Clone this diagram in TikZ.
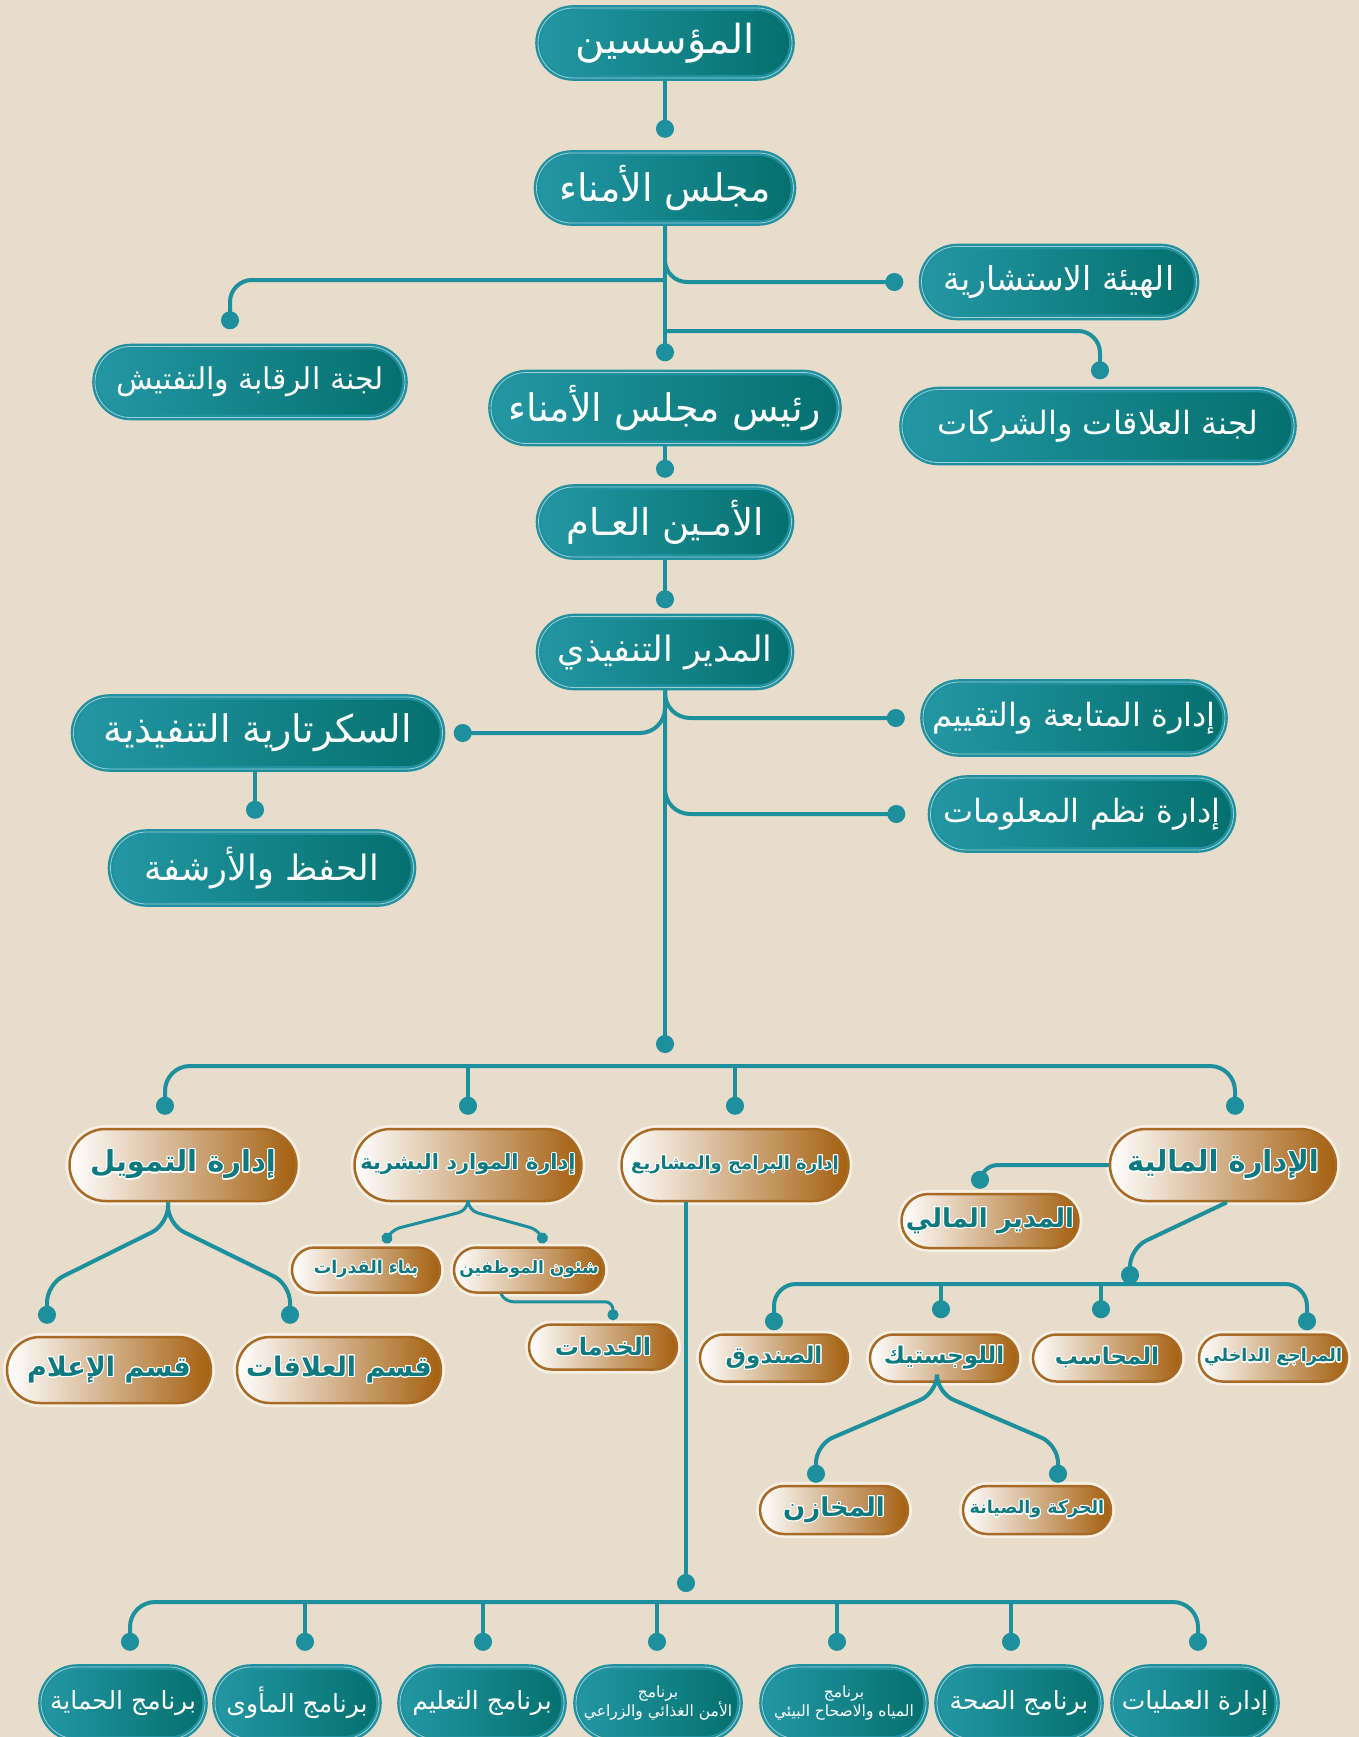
\documentclass[tikz,border=0pt]{standalone}
\usepackage{fontspec}
\usepackage[copies]{contour}
\newfontfamily\arabicfont[Script=Arabic]{DejaVu Sans}
\TeXXeTstate=1
\usetikzlibrary{shapes.misc,arrows.meta}

\definecolor{bgbeige}{HTML}{E8DDCB}
\definecolor{lineteal}{HTML}{1E8F9C}
\definecolor{ringteal}{HTML}{2191A0}
\definecolor{tealline}{HTML}{9CCFD3}
\definecolor{tealL}{HTML}{2497A4}
\definecolor{tealD}{HTML}{04706E}
\definecolor{brownD}{HTML}{A4600F}
\definecolor{ringbrown}{HTML}{A86B26}
\definecolor{glow}{HTML}{F6EFE4}
\definecolor{txtteal}{HTML}{0E7A80}

\contourlength{1.1pt}
\newcommand{\rl}[1]{\beginR#1\endR}
\newcommand{\brl}[1]{\contour{white}{\beginR#1\endR}}
\newcommand{\arsize}[2]{\arabicfont\fontsize{#1}{#2}\selectfont}

\tikzset{
  tealbox/.style={rounded rectangle, draw=ringteal, line width=2.4pt,
    double=tealline, double distance=0.8pt, left color=tealL, right color=tealD,
    text=white, inner sep=0pt},
  brownbox/.style={rounded rectangle, preaction={draw=glow, line width=8pt},
    draw=ringbrown, line width=2.5pt, left color=white, middle color=white!45!brownD,
    right color=brownD, text=txtteal, inner sep=0pt},
  conn/.style={draw=lineteal, line width=4pt, -{Circle[length=18pt,width=18pt]}},
  thinconn/.style={draw=lineteal, line width=3pt, -{Circle[length=11pt,width=11pt]}},
}

\begin{document}
\begin{tikzpicture}[x=1pt,y=-1pt]
\fill[bgbeige] (0,0) rectangle (1359,1737);
\useasboundingbox (0,0) rectangle (1359,1737);

% upper part
\node[tealbox, minimum width=254pt, minimum height=70pt, font=\arsize{40}{46}] (founders) at (665,43) {\rl{المؤسسين}};
\node[tealbox, minimum width=257pt, minimum height=70pt, font=\arsize{38}{44}] (board) at (665,188) {\rl{مجلس الأمناء}};
\node[tealbox, minimum width=275pt, minimum height=71pt, font=\arsize{33}{38}] (advisory) at (1059,282) {\rl{الهيئة الاستشارية}};
\node[tealbox, minimum width=310pt, minimum height=71pt, font=\arsize{30}{35}] (audit) at (250,382) {\rl{لجنة الرقابة والتفتيش}};
\node[tealbox, minimum width=348pt, minimum height=71pt, font=\arsize{38}{44}] (chair) at (665,408) {\rl{رئيس مجلس الأمناء}};
\node[tealbox, minimum width=392pt, minimum height=73pt, font=\arsize{32}{37}] (partners) at (1098,426) {\rl{لجنة العلاقات والشركات}};
\node[tealbox, minimum width=253pt, minimum height=70pt, font=\arsize{37}{42}] (secgen) at (665,522) {\rl{الأمـين العـام}};
\node[tealbox, minimum width=253pt, minimum height=71pt, font=\arsize{35}{40}] (ceo) at (665,652) {\rl{المدير التنفيذي}};
\node[tealbox, minimum width=369pt, minimum height=72pt, font=\arsize{38}{44}] (secretariat) at (258,733) {\rl{السكرتارية التنفيذية}};
\node[tealbox, minimum width=303pt, minimum height=72pt, font=\arsize{35}{40}] (archive) at (262,868) {\rl{الحفظ والأرشفة}};
\node[tealbox, minimum width=302pt, minimum height=72pt, font=\arsize{32}{37}] (monitoring) at (1074,718) {\rl{إدارة المتابعة والتقييم}};
\node[tealbox, minimum width=303pt, minimum height=72pt, font=\arsize{32}{37}] (infosys) at (1082,814) {\rl{إدارة نظم المعلومات}};

\coordinate (j1) at (665,280);
\coordinate (j2) at (665,331);
\coordinate (hub) at (665,1053);

\draw[conn] (founders.south) -- ([yshift=14pt]board.north);
\draw[conn] (board.south) -- ([yshift=10pt]chair.north);
\draw[conn, rounded corners=22pt] (j1) -| ([xshift=-20pt,yshift=16pt]audit.north);
\draw[conn, rounded corners=22pt] (board.south) |- ([xshift=-17pt]advisory.west);
\draw[conn, rounded corners=22pt] (j2) -| ([xshift=2pt,yshift=9pt]partners.north);
\draw[conn] (chair.south) -- ([yshift=8pt]secgen.north);
\draw[conn] (secgen.south) -- ([yshift=7pt]ceo.north);
\draw[conn] (ceo.south) -- (hub);
\draw[conn, rounded corners=25pt] (ceo.south) |- ([xshift=10pt]secretariat.east);
\draw[conn, rounded corners=25pt] (ceo.south) |- ([xshift=-17pt]monitoring.west);
\draw[conn, rounded corners=25pt] (ceo.south) |- ([xshift=-24pt]infosys.west);
\draw[conn] ([xshift=-3pt]secretariat.south) -- ([xshift=-7pt,yshift=12pt]archive.north);

% departments
\node[brownbox, minimum width=227pt, minimum height=72pt, font=\arsize{29}{34}\bfseries] (finance) at (183,1165) {\brl{إدارة التمويل}};
\node[brownbox, minimum width=227pt, minimum height=72pt, font=\arsize{21}{26}\bfseries] (hr) at (468,1165) {\brl{إدارة الموارد البشرية}};
\node[brownbox, minimum width=227pt, minimum height=72pt, font=\arsize{18}{22}\bfseries] (programs) at (735,1165) {\brl{إدارة البرامج والمشاريع}};
\node[brownbox, minimum width=226pt, minimum height=72pt, font=\arsize{29}{34}\bfseries] (fin) at (1223,1165) {\brl{الإدارة المالية}};

\coordinate (bus1) at (665,1066);
\draw[conn, rounded corners=25pt] (bus1) -| ([xshift=-18pt,yshift=13pt]finance.north);
\draw[conn, rounded corners=25pt] (bus1) -| ([xshift=12pt,yshift=13pt]fin.north);
\draw[conn] (hr.north |- bus1) -- ([yshift=13pt]hr.north);
\draw[conn] (programs.north |- bus1) -- ([yshift=13pt]programs.north);

% finance branch
\node[brownbox, minimum width=204pt, minimum height=66pt, font=\arsize{27}{32}\bfseries] (media) at (109,1370) {\brl{قسم الإعلام}};
\node[brownbox, minimum width=204pt, minimum height=66pt, font=\arsize{27}{32}\bfseries] (relations) at (339,1370) {\brl{قسم العلاقات}};
\draw[conn, rounded corners=18pt] ([xshift=-15pt]finance.south) -- ++(0,22) -- ++(-121,60) -- ([xshift=-62pt,yshift=12pt]media.north);
\draw[conn, rounded corners=18pt] ([xshift=-15pt]finance.south) -- ++(0,22) -- ++(122,60) -- ([xshift=-49pt,yshift=12pt]relations.north);

% hr branch
\node[brownbox, minimum width=148pt, minimum height=45pt, font=\arsize{17.5}{21}\bfseries] (capacity) at (366,1270) {\brl{بناء القدرات}};
\node[brownbox, minimum width=150pt, minimum height=45pt, font=\arsize{17}{21}\bfseries] (staff) at (529,1270) {\brl{شئون الموظفين}};
\node[brownbox, minimum width=148pt, minimum height=45pt, font=\arsize{24}{28}\bfseries] (services) at (603,1347) {\brl{الخدمات}};
\draw[thinconn, rounded corners=10pt] (hr.south) -- ++(0,8) -- ++(-78,20) -- ([xshift=19pt,yshift=3pt]capacity.north);
\draw[thinconn, rounded corners=10pt] (hr.south) -- ++(0,8) -- ++(72,20) -- ([xshift=15pt,yshift=3pt]staff.north);
\draw[thinconn, rounded corners=8pt] ([xshift=-28pt]staff.south) -- ++(4,8) -| ([xshift=10pt,yshift=3pt]services.north);

% financial department branch
\node[brownbox, minimum width=177pt, minimum height=54pt, font=\arsize{26}{30}\bfseries] (cfo) at (990,1221) {\brl{المدير المالي}};
\node[brownbox, minimum width=148pt, minimum height=47pt, font=\arsize{23}{27}\bfseries] (fund) at (774,1358) {\brl{الصندوق}};
\node[brownbox, minimum width=148pt, minimum height=47pt, font=\arsize{23}{27}\bfseries] (logistics) at (944,1358) {\brl{اللوجستيك}};
\node[brownbox, minimum width=148pt, minimum height=47pt, font=\arsize{23}{27}\bfseries] (accountant) at (1107,1358) {\brl{المحاسب}};
\node[brownbox, minimum width=148pt, minimum height=47pt, font=\arsize{17.5}{21}\bfseries] (auditor) at (1273,1358) {\brl{المراجع الداخلي}};
\node[brownbox, minimum width=148pt, minimum height=48pt, font=\arsize{26}{30}\bfseries] (stores) at (834,1510) {\brl{المخازن}};
\node[brownbox, minimum width=148pt, minimum height=48pt, font=\arsize{17.5}{21}\bfseries] (maintenance) at (1037,1510) {\brl{الحركة والصيانة}};

\coordinate (bus2) at (1130,1284);
\draw[conn, rounded corners=18pt] (fin.west) -| ([xshift=-10pt,yshift=4pt]cfo.north);
\draw[conn, rounded corners=18pt] ([xshift=4pt]fin.south) -- ++(-97,46) -- (bus2);
\draw[conn, rounded corners=22pt] (bus2) -| ([yshift=3pt]fund.north);
\draw[conn, rounded corners=22pt] (bus2) -| ([xshift=34pt,yshift=3pt]auditor.north);
\draw[conn] ([xshift=-3pt]logistics.north |- bus2) -- ([xshift=-3pt,yshift=15pt]logistics.north);
\draw[conn] ([xshift=-6pt]accountant.north |- bus2) -- ([xshift=-6pt,yshift=15pt]accountant.north);
\draw[conn, rounded corners=18pt] ([xshift=-7pt]logistics.south) -- ++(0,10) -- ++(-121,52) -- ([xshift=-18pt,yshift=2pt]stores.north);
\draw[conn, rounded corners=18pt] ([xshift=-7pt]logistics.south) -- ++(0,10) -- ++(121,52) -- ([xshift=21pt,yshift=2pt]maintenance.north);

% programmes
\foreach \name/\x/\txt in {p1/123/{برنامج الحماية}, p2/297/{برنامج المأوى}, p3/482/{برنامج التعليم}, p6/1019/{برنامج الصحة}, p7/1195/{إدارة العمليات}}
  \node[tealbox, minimum width=164pt, minimum height=72pt, font=\arsize{25}{29}] (\name) at (\x,1703) {\rl{\txt}};
\node[tealbox, minimum width=164pt, minimum height=72pt, font=\arsize{15.5}{19}, align=center] (p4) at (658,1703) {\rl{برنامج}\\\rl{الأمن الغذائي والزراعي}};
\node[tealbox, minimum width=164pt, minimum height=72pt, font=\arsize{15.5}{19}, align=center] (p5) at (844,1703) {\rl{برنامج}\\\rl{المياه والاصحاح البيئي}};

\coordinate (hub2) at (686,1592);
\coordinate (bus3) at (686,1602);
\draw[conn] ([xshift=-49pt]programs.south) -- (hub2);
\draw[conn, rounded corners=25pt] (bus3) -| ([xshift=7pt,yshift=15pt]p1.north);
\draw[conn, rounded corners=25pt] (bus3) -| ([xshift=3pt,yshift=15pt]p7.north);
\foreach \p/\dx in {p2/8, p3/1, p4/-1, p5/-7, p6/-8}
  \draw[conn] ([xshift=\dx pt]\p.north |- bus3) -- ([xshift=\dx pt,yshift=15pt]\p.north);
\end{tikzpicture}
\end{document}
